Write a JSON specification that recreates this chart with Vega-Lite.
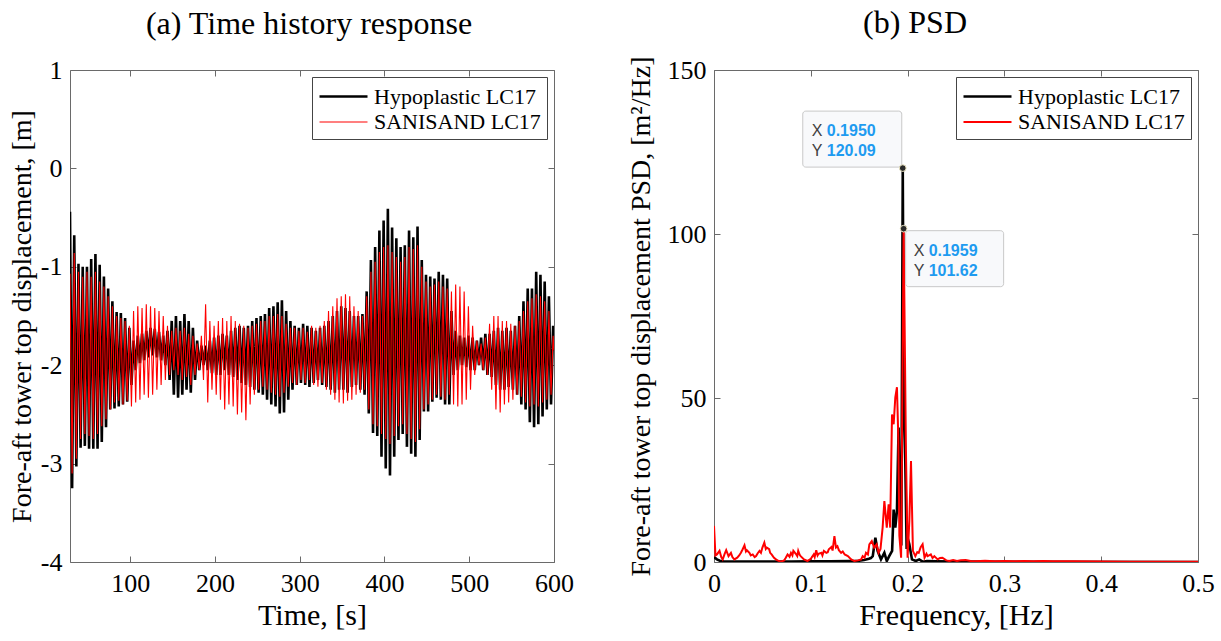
{
"$schema": "https://vega.github.io/schema/vega-lite/v6.json",
"padding": {"left": 7, "top": 6, "right": 4, "bottom": 4},
"background": "white",
"config": {
 "view": {"stroke": "#6a6a6a", "strokeWidth": 1},
 "axis": {"grid": false, "domain": false, "ticks": true, "tickColor": "#6a6a6a", "tickSize": -6, "tickWidth": 1, "labelFont": "Liberation Serif", "labelFontSize": 26, "labelColor": "#000", "labelPadding": 14, "labelFlush": false, "titleFont": "Liberation Serif", "titleFontSize": 30, "titleFontWeight": "normal", "titleColor": "#000", "titlePadding": 4},
 "axisY": {"titleFontSize": 28},
 "title": {"font": "Liberation Serif", "fontSize": 32, "fontWeight": "normal", "color": "#000"},
 "legend": {"orient": "top-right", "offset": 7, "title": null, "labelFont": "Liberation Serif", "labelFontSize": 22, "labelColor": "#000", "labelLimit": 0, "strokeColor": "#444", "fillColor": "#fff", "padding": 6, "symbolType": "M-3,0H1", "symbolSize": 576, "symbolOffset": 24, "labelOffset": 5, "rowPadding": 1}
},
"resolve": {"scale": {"color": "independent", "strokeWidth": "independent"}, "legend": {"color": "independent", "strokeWidth": "independent"}},
"datasets": {
 "ts": [
{"t":29,"H":-0.44,"S":-1.07},{"t":31.5,"H":-3.25,"S":-3.10},{"t":34,"H":-0.68,"S":-0.86},{"t":36.5,"H":-3.03,"S":-2.95},
{"t":39,"H":-0.97,"S":-1.05},{"t":41.5,"H":-2.84,"S":-2.75},{"t":44,"H":-1.00,"S":-1.10},{"t":46.5,"H":-2.82,"S":-2.70},
{"t":49,"H":-1.00,"S":-1.05},{"t":51.5,"H":-2.85,"S":-2.72},{"t":54,"H":-0.92,"S":-1.10},{"t":56.5,"H":-2.85,"S":-2.75},
{"t":59,"H":-0.87,"S":-1.05},{"t":61.5,"H":-2.85,"S":-2.70},{"t":64,"H":-0.98,"S":-1.15},{"t":66.5,"H":-2.78,"S":-2.62},
{"t":69,"H":-1.10,"S":-1.20},{"t":71.5,"H":-2.63,"S":-2.55},{"t":74,"H":-1.22,"S":-1.30},{"t":76.5,"H":-2.45,"S":-2.45},
{"t":79,"H":-1.35,"S":-1.40},{"t":81.5,"H":-2.44,"S":-2.38},{"t":84,"H":-1.46,"S":-1.50},{"t":86.5,"H":-2.42,"S":-2.36},
{"t":89,"H":-1.47,"S":-1.52},{"t":91.5,"H":-2.40,"S":-2.40},{"t":94,"H":-1.52,"S":-1.55},{"t":96.5,"H":-2.37,"S":-2.36},
{"t":99,"H":-1.62,"S":-1.60},{"t":101.5,"H":-2.20,"S":-2.42},{"t":104,"H":-1.75,"S":-1.45},{"t":106.5,"H":-2.05,"S":-2.38},
{"t":109,"H":-1.70,"S":-1.40},{"t":111.5,"H":-1.98,"S":-2.35},{"t":114,"H":-1.68,"S":-1.42},{"t":116.5,"H":-1.95,"S":-2.30},
{"t":119,"H":-1.65,"S":-1.38},{"t":121.5,"H":-1.92,"S":-2.33},{"t":124,"H":-1.62,"S":-1.40},{"t":126.5,"H":-1.90,"S":-2.30},
{"t":129,"H":-1.63,"S":-1.42},{"t":131.5,"H":-1.92,"S":-2.25},{"t":134,"H":-1.66,"S":-1.45},{"t":136.5,"H":-1.95,"S":-2.20},
{"t":139,"H":-1.70,"S":-1.50},{"t":141.5,"H":-2.00,"S":-2.15},{"t":144,"H":-1.65,"S":-1.60},{"t":146.5,"H":-2.15,"S":-2.10},
{"t":149,"H":-1.55,"S":-1.65},{"t":151.5,"H":-2.30,"S":-2.05},{"t":154,"H":-1.50,"S":-1.62},{"t":156.5,"H":-2.33,"S":-2.10},
{"t":159,"H":-1.55,"S":-1.65},{"t":161.5,"H":-2.30,"S":-2.15},{"t":164,"H":-1.48,"S":-1.62},{"t":166.5,"H":-2.25,"S":-2.12},
{"t":169,"H":-1.55,"S":-1.68},{"t":171.5,"H":-2.28,"S":-2.20},{"t":174,"H":-1.62,"S":-1.70},{"t":176.5,"H":-2.15,"S":-2.10},
{"t":179,"H":-1.75,"S":-1.78},{"t":181.5,"H":-2.05,"S":-2.05},{"t":184,"H":-1.80,"S":-1.70},{"t":186.5,"H":-2.00,"S":-2.15},
{"t":189,"H":-1.80,"S":-1.38},{"t":191.5,"H":-2.05,"S":-2.38},{"t":194,"H":-1.75,"S":-1.55},{"t":196.5,"H":-2.08,"S":-2.25},
{"t":199,"H":-1.72,"S":-1.60},{"t":201.5,"H":-2.10,"S":-2.30},{"t":204,"H":-1.70,"S":-1.55},{"t":206.5,"H":-2.10,"S":-2.35},
{"t":209,"H":-1.68,"S":-1.52},{"t":211.5,"H":-2.05,"S":-2.45},{"t":214,"H":-1.70,"S":-1.55},{"t":216.5,"H":-2.10,"S":-2.40},
{"t":219,"H":-1.65,"S":-1.50},{"t":221.5,"H":-2.12,"S":-2.42},{"t":224,"H":-1.62,"S":-1.55},{"t":226.5,"H":-2.15,"S":-2.50},
{"t":229,"H":-1.60,"S":-1.58},{"t":231.5,"H":-2.18,"S":-2.48},{"t":234,"H":-1.62,"S":-1.60},{"t":236.5,"H":-2.20,"S":-2.56},
{"t":239,"H":-1.60,"S":-1.62},{"t":241.5,"H":-2.22,"S":-2.40},{"t":244,"H":-1.55,"S":-1.60},{"t":246.5,"H":-2.25,"S":-2.30},
{"t":249,"H":-1.52,"S":-1.58},{"t":251.5,"H":-2.28,"S":-2.25},{"t":254,"H":-1.50,"S":-1.55},{"t":256.5,"H":-2.30,"S":-2.22},
{"t":259,"H":-1.48,"S":-1.55},{"t":261.5,"H":-2.35,"S":-2.25},{"t":264,"H":-1.42,"S":-1.50},{"t":266.5,"H":-2.40,"S":-2.28},
{"t":269,"H":-1.40,"S":-1.50},{"t":271.5,"H":-2.42,"S":-2.30},{"t":274,"H":-1.36,"S":-1.48},{"t":276.5,"H":-2.49,"S":-2.32},
{"t":279,"H":-1.34,"S":-1.50},{"t":281.5,"H":-2.48,"S":-2.28},{"t":284,"H":-1.45,"S":-1.58},{"t":286.5,"H":-2.35,"S":-2.22},
{"t":289,"H":-1.55,"S":-1.62},{"t":291.5,"H":-2.25,"S":-2.18},{"t":294,"H":-1.60,"S":-1.62},{"t":296.5,"H":-2.20,"S":-2.20},
{"t":299,"H":-1.62,"S":-1.65},{"t":301.5,"H":-2.18,"S":-2.15},{"t":304,"H":-1.58,"S":-1.62},{"t":306.5,"H":-2.20,"S":-2.18},
{"t":309,"H":-1.60,"S":-1.66},{"t":311.5,"H":-2.22,"S":-2.15},{"t":314,"H":-1.62,"S":-1.60},{"t":316.5,"H":-2.18,"S":-2.20},
{"t":319,"H":-1.65,"S":-1.62},{"t":321.5,"H":-2.15,"S":-2.22},{"t":324,"H":-1.62,"S":-1.60},{"t":326.5,"H":-2.20,"S":-2.18},
{"t":329,"H":-1.60,"S":-1.55},{"t":331.5,"H":-2.22,"S":-2.25},{"t":334,"H":-1.55,"S":-1.45},{"t":336.5,"H":-2.25,"S":-2.30},
{"t":339,"H":-1.50,"S":-1.40},{"t":341.5,"H":-2.28,"S":-2.35},{"t":344,"H":-1.45,"S":-1.32},{"t":346.5,"H":-2.25,"S":-2.38},
{"t":349,"H":-1.40,"S":-1.30},{"t":351.5,"H":-2.25,"S":-2.39},{"t":354,"H":-1.42,"S":-1.28},{"t":356.5,"H":-2.28,"S":-2.36},
{"t":359,"H":-1.45,"S":-1.30},{"t":361.5,"H":-2.22,"S":-2.35},{"t":364,"H":-1.50,"S":-1.40},{"t":366.5,"H":-2.20,"S":-2.30},
{"t":369,"H":-1.50,"S":-1.45},{"t":371.5,"H":-2.25,"S":-2.28},{"t":374,"H":-1.48,"S":-1.50},{"t":376.5,"H":-2.30,"S":-2.25},
{"t":379,"H":-1.25,"S":-1.30},{"t":381.5,"H":-2.49,"S":-2.45},{"t":384,"H":-0.93,"S":-1.05},{"t":386.5,"H":-2.69,"S":-2.60},
{"t":389,"H":-0.80,"S":-0.95},{"t":391.5,"H":-2.72,"S":-2.62},{"t":394,"H":-0.63,"S":-0.85},{"t":396.5,"H":-2.93,"S":-2.70},
{"t":399,"H":-0.53,"S":-0.80},{"t":401.5,"H":-3.05,"S":-2.75},{"t":404,"H":-0.41,"S":-0.78},{"t":406.5,"H":-3.12,"S":-2.80},
{"t":409,"H":-0.60,"S":-0.85},{"t":411.5,"H":-2.93,"S":-2.72},{"t":414,"H":-0.71,"S":-0.90},{"t":416.5,"H":-2.76,"S":-2.62},
{"t":419,"H":-0.80,"S":-0.95},{"t":421.5,"H":-2.70,"S":-2.60},{"t":424,"H":-0.78,"S":-0.90},{"t":426.5,"H":-2.83,"S":-2.70},
{"t":429,"H":-0.63,"S":-0.80},{"t":431.5,"H":-2.90,"S":-2.75},{"t":434,"H":-0.70,"S":-0.82},{"t":436.5,"H":-2.93,"S":-2.78},
{"t":439,"H":-0.59,"S":-0.78},{"t":441.5,"H":-2.76,"S":-2.65},{"t":444,"H":-0.93,"S":-1.00},{"t":446.5,"H":-2.47,"S":-2.45},
{"t":449,"H":-1.08,"S":-1.15},{"t":451.5,"H":-2.47,"S":-2.40},{"t":454,"H":-1.10,"S":-1.20},{"t":456.5,"H":-2.37,"S":-2.35},
{"t":459,"H":-1.12,"S":-1.18},{"t":461.5,"H":-2.33,"S":-2.30},{"t":464,"H":-1.05,"S":-1.15},{"t":466.5,"H":-2.35,"S":-2.32},
{"t":469,"H":-1.08,"S":-1.20},{"t":471.5,"H":-2.40,"S":-2.35},{"t":474,"H":-1.12,"S":-1.22},{"t":476.5,"H":-2.40,"S":-2.30},
{"t":479,"H":-1.45,"S":-1.25},{"t":481.5,"H":-2.10,"S":-2.40},{"t":484,"H":-1.65,"S":-1.18},{"t":486.5,"H":-2.05,"S":-2.42},
{"t":489,"H":-1.70,"S":-1.20},{"t":491.5,"H":-2.00,"S":-2.40},{"t":494,"H":-1.72,"S":-1.25},{"t":496.5,"H":-2.02,"S":-2.35},
{"t":499,"H":-1.70,"S":-1.40},{"t":501.5,"H":-2.05,"S":-2.25},{"t":504,"H":-1.72,"S":-1.60},{"t":506.5,"H":-2.05,"S":-2.10},
{"t":509,"H":-1.75,"S":-1.75},{"t":511.5,"H":-2.00,"S":-2.00},{"t":514,"H":-1.72,"S":-1.78},{"t":516.5,"H":-2.05,"S":-2.05},
{"t":519,"H":-1.68,"S":-1.72},{"t":521.5,"H":-2.10,"S":-2.10},{"t":524,"H":-1.68,"S":-1.58},{"t":526.5,"H":-2.12,"S":-2.25},
{"t":529,"H":-1.65,"S":-1.50},{"t":531.5,"H":-2.20,"S":-2.45},{"t":534,"H":-1.62,"S":-1.50},{"t":536.5,"H":-2.25,"S":-2.48},
{"t":539,"H":-1.65,"S":-1.55},{"t":541.5,"H":-2.25,"S":-2.40},{"t":544,"H":-1.62,"S":-1.55},{"t":546.5,"H":-2.22,"S":-2.38},
{"t":549,"H":-1.65,"S":-1.58},{"t":551.5,"H":-2.25,"S":-2.35},{"t":554,"H":-1.60,"S":-1.60},{"t":556.5,"H":-2.30,"S":-2.30},
{"t":559,"H":-1.50,"S":-1.55},{"t":561.5,"H":-2.40,"S":-2.32},{"t":564,"H":-1.35,"S":-1.45},{"t":566.5,"H":-2.45,"S":-2.38},
{"t":569,"H":-1.22,"S":-1.35},{"t":571.5,"H":-2.58,"S":-2.42},{"t":574,"H":-1.22,"S":-1.32},{"t":576.5,"H":-2.63,"S":-2.40},
{"t":579,"H":-1.05,"S":-1.28},{"t":581.5,"H":-2.60,"S":-2.42},{"t":584,"H":-1.08,"S":-1.30},{"t":586.5,"H":-2.52,"S":-2.38},
{"t":589,"H":-1.15,"S":-1.35},{"t":591.5,"H":-2.45,"S":-2.35},{"t":594,"H":-1.30,"S":-1.45},{"t":596.5,"H":-2.40,"S":-2.30},
{"t":599,"H":-1.60,"S":-1.70},{"t":600,"H":-1.85,"S":-1.85}
 ],
 "psd": [
{"f":0,"v":1.5,"m":"H"},{"f":0.003,"v":0.8,"m":"H"},{"f":0.006,"v":0.4,"m":"H"},{"f":0.01,"v":0.2,"m":"H"},{"f":0.02,"v":0.15,"m":"H"},{"f":0.04,"v":0.1,"m":"H"},{"f":0.06,"v":0.1,"m":"H"},{"f":0.08,"v":0.15,"m":"H"},{"f":0.1,"v":0.2,"m":"H"},{"f":0.12,"v":0.2,"m":"H"},{"f":0.14,"v":0.3,"m":"H"},{"f":0.15,"v":0.4,"m":"H"},{"f":0.155,"v":0.6,"m":"H"},{"f":0.16,"v":1.0,"m":"H"},{"f":0.162,"v":1.2,"m":"H"},{"f":0.164,"v":1.8,"m":"H"},{"f":0.1667,"v":7.4,"m":"H"},{"f":0.169,"v":3.4,"m":"H"},{"f":0.1725,"v":0.8,"m":"H"},{"f":0.176,"v":2.8,"m":"H"},{"f":0.1785,"v":0.3,"m":"H"},{"f":0.181,"v":1.8,"m":"H"},{"f":0.184,"v":3.4,"m":"H"},{"f":0.1856,"v":16,"m":"H"},{"f":0.1873,"v":10.5,"m":"H"},{"f":0.189,"v":15.6,"m":"H"},{"f":0.1907,"v":41,"m":"H"},{"f":0.192,"v":17.6,"m":"H"},{"f":0.1935,"v":5,"m":"H"},{"f":0.195,"v":120.09,"m":"H"},{"f":0.1962,"v":45,"m":"H"},{"f":0.1976,"v":30.8,"m":"H"},{"f":0.199,"v":4,"m":"H"},{"f":0.2,"v":7.4,"m":"H"},{"f":0.2018,"v":5.4,"m":"H"},{"f":0.2045,"v":0.8,"m":"H"},{"f":0.2085,"v":0.3,"m":"H"},{"f":0.212,"v":0.8,"m":"H"},{"f":0.2155,"v":0.1,"m":"H"},{"f":0.22,"v":0.3,"m":"H"},{"f":0.23,"v":0.2,"m":"H"},{"f":0.25,"v":0.1,"m":"H"},{"f":0.3,"v":0.05,"m":"H"},{"f":0.5,"v":0.02,"m":"H"},
{"f":0,"v":11,"m":"S"},{"f":0.0015,"v":2.0,"m":"S"},{"f":0.003,"v":2.3,"m":"S"},{"f":0.0057,"v":3.4,"m":"S"},{"f":0.0075,"v":1.5,"m":"S"},{"f":0.009,"v":0.8,"m":"S"},{"f":0.011,"v":2.5,"m":"S"},{"f":0.0126,"v":3.6,"m":"S"},{"f":0.015,"v":1.8,"m":"S"},{"f":0.0175,"v":2.8,"m":"S"},{"f":0.019,"v":1.5,"m":"S"},{"f":0.021,"v":0.8,"m":"S"},{"f":0.024,"v":1.3,"m":"S"},{"f":0.026,"v":2.0,"m":"S"},{"f":0.0278,"v":2.8,"m":"S"},{"f":0.0295,"v":3.8,"m":"S"},{"f":0.0315,"v":5.1,"m":"S"},{"f":0.033,"v":3.2,"m":"S"},{"f":0.034,"v":3.6,"m":"S"},{"f":0.0366,"v":2.8,"m":"S"},{"f":0.038,"v":2.0,"m":"S"},{"f":0.04,"v":2.3,"m":"S"},{"f":0.042,"v":1.5,"m":"S"},{"f":0.0435,"v":1.8,"m":"S"},{"f":0.045,"v":2.6,"m":"S"},{"f":0.047,"v":3.4,"m":"S"},{"f":0.0485,"v":2.8,"m":"S"},{"f":0.05,"v":4.4,"m":"S"},{"f":0.052,"v":5.9,"m":"S"},{"f":0.0535,"v":4.0,"m":"S"},{"f":0.0545,"v":4.4,"m":"S"},{"f":0.057,"v":3.9,"m":"S"},{"f":0.058,"v":2.8,"m":"S"},{"f":0.0595,"v":2.3,"m":"S"},{"f":0.062,"v":1.3,"m":"S"},{"f":0.064,"v":0.8,"m":"S"},{"f":0.0656,"v":0.5,"m":"S"},{"f":0.069,"v":0.1,"m":"S"},{"f":0.0725,"v":0.5,"m":"S"},{"f":0.074,"v":1.2,"m":"S"},{"f":0.076,"v":2.3,"m":"S"},{"f":0.078,"v":1.6,"m":"S"},{"f":0.0795,"v":2.8,"m":"S"},{"f":0.081,"v":2.0,"m":"S"},{"f":0.082,"v":3.4,"m":"S"},{"f":0.0845,"v":2.5,"m":"S"},{"f":0.086,"v":1.8,"m":"S"},{"f":0.087,"v":3.4,"m":"S"},{"f":0.0885,"v":2.2,"m":"S"},{"f":0.0895,"v":1.8,"m":"S"},{"f":0.093,"v":0.8,"m":"S"},{"f":0.0965,"v":0.3,"m":"S"},{"f":0.1,"v":1.0,"m":"S"},{"f":0.103,"v":2.3,"m":"S"},{"f":0.104,"v":1.5,"m":"S"},{"f":0.1056,"v":3.6,"m":"S"},{"f":0.107,"v":2.0,"m":"S"},{"f":0.108,"v":2.5,"m":"S"},{"f":0.111,"v":2.8,"m":"S"},{"f":0.112,"v":2.0,"m":"S"},{"f":0.1135,"v":3.4,"m":"S"},{"f":0.116,"v":2.8,"m":"S"},{"f":0.1175,"v":3.0,"m":"S"},{"f":0.1186,"v":3.9,"m":"S"},{"f":0.1213,"v":4.6,"m":"S"},{"f":0.1225,"v":3.5,"m":"S"},{"f":0.1244,"v":7.9,"m":"S"},{"f":0.126,"v":4.4,"m":"S"},{"f":0.1275,"v":4.8,"m":"S"},{"f":0.129,"v":3.6,"m":"S"},{"f":0.1313,"v":2.8,"m":"S"},{"f":0.133,"v":3.2,"m":"S"},{"f":0.135,"v":2.3,"m":"S"},{"f":0.1383,"v":1.8,"m":"S"},{"f":0.1417,"v":0.8,"m":"S"},{"f":0.145,"v":0.3,"m":"S"},{"f":0.1486,"v":0.5,"m":"S"},{"f":0.152,"v":0.8,"m":"S"},{"f":0.1536,"v":1.8,"m":"S"},{"f":0.1555,"v":1.3,"m":"S"},{"f":0.157,"v":2.8,"m":"S"},{"f":0.159,"v":2.3,"m":"S"},{"f":0.1605,"v":5.4,"m":"S"},{"f":0.163,"v":6.4,"m":"S"},{"f":0.1655,"v":4.4,"m":"S"},{"f":0.168,"v":5.4,"m":"S"},{"f":0.17,"v":2.8,"m":"S"},{"f":0.172,"v":4.0,"m":"S"},{"f":0.1742,"v":10.5,"m":"S"},{"f":0.176,"v":18.6,"m":"S"},{"f":0.1785,"v":10.5,"m":"S"},{"f":0.1804,"v":17.6,"m":"S"},{"f":0.182,"v":10.5,"m":"S"},{"f":0.1839,"v":45,"m":"S"},{"f":0.1856,"v":42,"m":"S"},{"f":0.1873,"v":50.2,"m":"S"},{"f":0.189,"v":53.3,"m":"S"},{"f":0.1904,"v":38,"m":"S"},{"f":0.1915,"v":8,"m":"S"},{"f":0.1933,"v":1.3,"m":"S"},{"f":0.1959,"v":101.62,"m":"S"},{"f":0.1983,"v":33.8,"m":"S"},{"f":0.2,"v":1.3,"m":"S"},{"f":0.2018,"v":12.5,"m":"S"},{"f":0.2035,"v":30.8,"m":"S"},{"f":0.2055,"v":3.4,"m":"S"},{"f":0.208,"v":1.8,"m":"S"},{"f":0.21,"v":3.0,"m":"S"},{"f":0.2115,"v":2.8,"m":"S"},{"f":0.2135,"v":4.5,"m":"S"},{"f":0.2155,"v":5.4,"m":"S"},{"f":0.2175,"v":1.3,"m":"S"},{"f":0.2195,"v":2.5,"m":"S"},{"f":0.2207,"v":1.8,"m":"S"},{"f":0.224,"v":2.3,"m":"S"},{"f":0.2258,"v":1.2,"m":"S"},{"f":0.2276,"v":1.8,"m":"S"},{"f":0.231,"v":0.8,"m":"S"},{"f":0.2335,"v":1.2,"m":"S"},{"f":0.236,"v":1.3,"m":"S"},{"f":0.24,"v":0.5,"m":"S"},{"f":0.243,"v":0.3,"m":"S"},{"f":0.247,"v":0.6,"m":"S"},{"f":0.251,"v":0.3,"m":"S"},{"f":0.255,"v":0.5,"m":"S"},{"f":0.26,"v":0.6,"m":"S"},{"f":0.265,"v":0.3,"m":"S"},{"f":0.27,"v":0.2,"m":"S"},{"f":0.28,"v":0.4,"m":"S"},{"f":0.29,"v":0.2,"m":"S"},{"f":0.3,"v":0.3,"m":"S"},{"f":0.31,"v":0.2,"m":"S"},{"f":0.32,"v":0.3,"m":"S"},{"f":0.33,"v":0.2,"m":"S"},{"f":0.34,"v":0.3,"m":"S"},{"f":0.35,"v":0.2,"m":"S"},{"f":0.37,"v":0.2,"m":"S"},{"f":0.4,"v":0.15,"m":"S"},{"f":0.43,"v":0.1,"m":"S"},{"f":0.46,"v":0.1,"m":"S"},{"f":0.5,"v":0.1,"m":"S"}
 ],
 "tips": [{"f":0.195,"v":120.09,"m":"H"},{"f":0.1959,"v":101.62,"m":"S"}]
},
"spacing": 52,
"hconcat": [
 {
  "width": 484, "height": 492,
  "title": {"text": "(a) Time history response", "anchor": "middle", "frame": "group", "dx": -3, "offset": 16},
  "resolve": {"axis": {"x": "independent", "y": "independent"}},
  "layer": [
   {
    "data": {"name": "ts"},
    "transform": [{"fold": ["H", "S"], "as": ["m", "y"]}],
    "mark": {"type": "line", "clip": true},
    "encoding": {
     "x": {"field": "t", "type": "quantitative", "scale": {"domain": [29, 600], "nice": false, "zero": false}, "axis": {"orient": "bottom", "values": [100, 200, 300, 400, 500, 600], "title": "Time, [s]"}},
     "y": {"field": "y", "type": "quantitative", "scale": {"domain": [-4, 1], "nice": false, "zero": false}, "axis": {"orient": "left", "values": [-4, -3, -2, -1, 0, 1], "labelExpr": "'' + datum.value", "title": "Fore-aft tower top displacement, [m]"}},
     "color": {"field": "m", "type": "nominal", "scale": {"domain": ["H", "S"], "range": ["#000000", "#ff0000"]}, "legend": {"orient": "top-right", "labelExpr": "datum.label == 'H' ? 'Hypoplastic LC17' : 'SANISAND LC17'"}},
     "strokeWidth": {"field": "m", "type": "nominal", "scale": {"domain": ["H", "S"], "range": [2.6, 1.1]}, "legend": {"orient": "top-right", "labelExpr": "datum.label == 'H' ? 'Hypoplastic LC17' : 'SANISAND LC17'"}}
    }
   },
   {
    "data": {"values": [{"t": 300, "y": -2}]},
    "mark": {"type": "point", "opacity": 0},
    "encoding": {
     "x": {"field": "t", "type": "quantitative", "scale": {"domain": [29, 600], "nice": false, "zero": false}, "axis": {"orient": "top", "values": [100, 200, 300, 400, 500, 600], "labels": false, "title": null}},
     "y": {"field": "y", "type": "quantitative", "scale": {"domain": [-4, 1], "nice": false, "zero": false}, "axis": {"orient": "right", "values": [-4, -3, -2, -1, 0, 1], "labels": false, "title": null}}
    }
   }
  ]
 },
 {
  "width": 484, "height": 492,
  "title": {"text": "(b) PSD", "anchor": "middle", "frame": "group", "dx": -41, "offset": 16},
  "resolve": {"axis": {"x": "independent", "y": "independent"}},
  "layer": [
   {
    "data": {"name": "psd"},
    "mark": {"type": "line", "clip": true},
    "encoding": {
     "x": {"field": "f", "type": "quantitative", "scale": {"domain": [0, 0.5], "nice": false}, "axis": {"orient": "bottom", "values": [0, 0.1, 0.2, 0.3, 0.4, 0.5], "format": "~g", "title": "Frequency, [Hz]"}},
     "y": {"field": "v", "type": "quantitative", "scale": {"domain": [0, 150], "nice": false}, "axis": {"orient": "left", "values": [0, 50, 100, 150], "titlePadding": 12, "title": "Fore-aft tower top displacement PSD, [m²/Hz]"}},
     "color": {"field": "m", "type": "nominal", "scale": {"domain": ["H", "S"], "range": ["#000000", "#ff0000"]}, "legend": {"orient": "top-right", "labelExpr": "datum.label == 'H' ? 'Hypoplastic LC17' : 'SANISAND LC17'"}},
     "strokeWidth": {"field": "m", "type": "nominal", "scale": {"domain": ["H", "S"], "range": [2.6, 2.0]}, "legend": {"orient": "top-right", "labelExpr": "datum.label == 'H' ? 'Hypoplastic LC17' : 'SANISAND LC17'"}}
    }
   },
   {
    "data": {"values": [{"f": 0.25, "v": 75}]},
    "mark": {"type": "point", "opacity": 0},
    "encoding": {
     "x": {"field": "f", "type": "quantitative", "scale": {"domain": [0, 0.5], "nice": false}, "axis": {"orient": "top", "values": [0, 0.1, 0.2, 0.3, 0.4, 0.5], "labels": false, "title": null}},
     "y": {"field": "v", "type": "quantitative", "scale": {"domain": [0, 150], "nice": false}, "axis": {"orient": "right", "values": [0, 50, 100, 150], "labels": false, "title": null}}
    }
   },
   {
    "data": {"name": "tips"},
    "transform": [{"filter": "datum.m == 'H'"}],
    "layer": [
     {"mark": {"type": "rect", "fill": "#f8f9fb", "stroke": "#c8c8c8", "strokeWidth": 1, "cornerRadius": 3, "xOffset": -100, "x2Offset": -1, "yOffset": -57, "y2Offset": -1},
      "encoding": {"x": {"field": "f", "type": "quantitative", "axis": null}, "x2": {"field": "f"}, "y": {"field": "v", "type": "quantitative", "axis": null}, "y2": {"field": "v"}}},
     {"mark": {"type": "text", "text": ["X", "Y"], "align": "left", "baseline": "top", "lineHeight": 20, "dx": -91, "dy": -45, "font": "Liberation Sans", "fontSize": 16, "color": "#404040"},
      "encoding": {"x": {"field": "f", "type": "quantitative", "axis": null}, "y": {"field": "v", "type": "quantitative", "axis": null}}},
     {"mark": {"type": "text", "align": "left", "baseline": "top", "dx": -76, "dy": -45, "font": "Liberation Sans", "fontSize": 16, "fontWeight": "bold", "color": "#1e9bf0"},
      "encoding": {"x": {"field": "f", "type": "quantitative", "axis": null}, "y": {"field": "v", "type": "quantitative", "axis": null}, "text": {"field": "f", "type": "quantitative", "format": ".4f"}}},
     {"mark": {"type": "text", "align": "left", "baseline": "top", "dx": -76, "dy": -25, "font": "Liberation Sans", "fontSize": 16, "fontWeight": "bold", "color": "#1e9bf0"},
      "encoding": {"x": {"field": "f", "type": "quantitative", "axis": null}, "y": {"field": "v", "type": "quantitative", "axis": null}, "text": {"field": "v", "type": "quantitative", "format": ".2f"}}}
    ]
   },
   {
    "data": {"name": "tips"},
    "transform": [{"filter": "datum.m == 'S'"}],
    "layer": [
     {"mark": {"type": "rect", "fill": "#f8f9fb", "stroke": "#c8c8c8", "strokeWidth": 1, "cornerRadius": 3, "xOffset": 2, "x2Offset": 100, "yOffset": 2, "y2Offset": 58},
      "encoding": {"x": {"field": "f", "type": "quantitative", "axis": null}, "x2": {"field": "f"}, "y": {"field": "v", "type": "quantitative", "axis": null}, "y2": {"field": "v"}}},
     {"mark": {"type": "text", "text": ["X", "Y"], "align": "left", "baseline": "top", "lineHeight": 20, "dx": 10, "dy": 14, "font": "Liberation Sans", "fontSize": 16, "color": "#404040"},
      "encoding": {"x": {"field": "f", "type": "quantitative", "axis": null}, "y": {"field": "v", "type": "quantitative", "axis": null}}},
     {"mark": {"type": "text", "align": "left", "baseline": "top", "dx": 25, "dy": 14, "font": "Liberation Sans", "fontSize": 16, "fontWeight": "bold", "color": "#1e9bf0"},
      "encoding": {"x": {"field": "f", "type": "quantitative", "axis": null}, "y": {"field": "v", "type": "quantitative", "axis": null}, "text": {"field": "f", "type": "quantitative", "format": ".4f"}}},
     {"mark": {"type": "text", "align": "left", "baseline": "top", "dx": 25, "dy": 34, "font": "Liberation Sans", "fontSize": 16, "fontWeight": "bold", "color": "#1e9bf0"},
      "encoding": {"x": {"field": "f", "type": "quantitative", "axis": null}, "y": {"field": "v", "type": "quantitative", "axis": null}, "text": {"field": "v", "type": "quantitative", "format": ".2f"}}}
    ]
   },
   {
    "data": {"name": "tips"},
    "mark": {"type": "point", "filled": true, "fill": "#2a2a2a", "stroke": "#ece6c4", "strokeWidth": 1, "size": 45, "opacity": 1},
    "encoding": {"x": {"field": "f", "type": "quantitative", "axis": null}, "y": {"field": "v", "type": "quantitative", "axis": null}}
   }
  ]
 }
]
}
